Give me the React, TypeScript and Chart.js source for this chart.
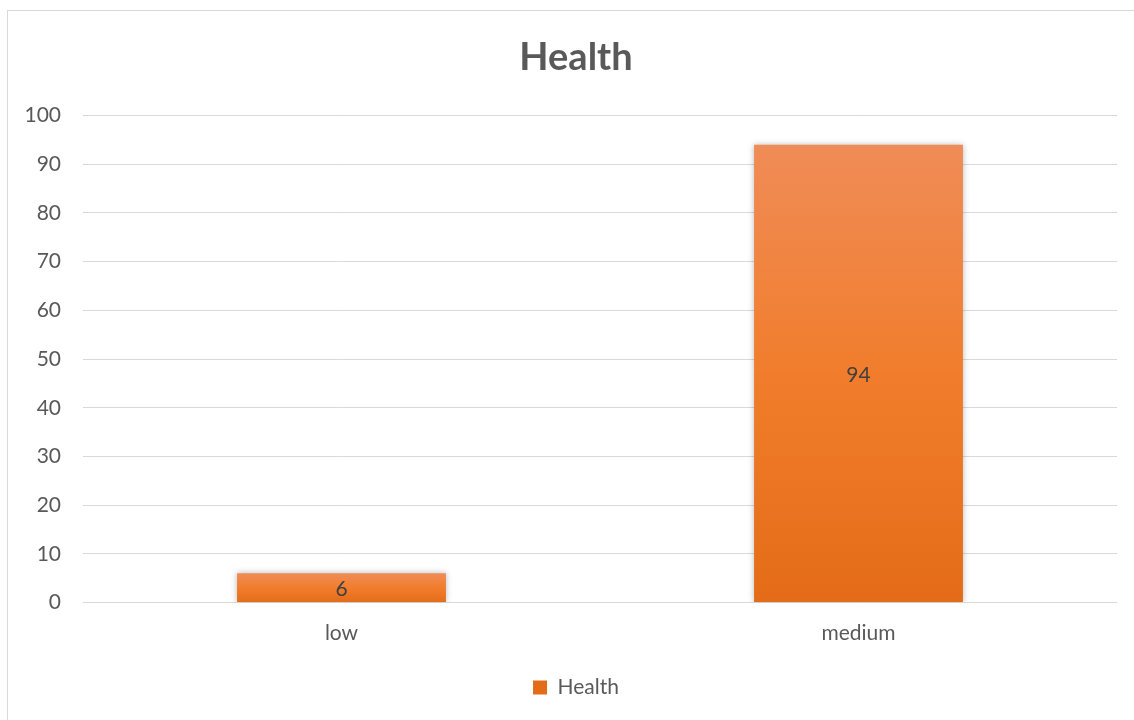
import React, { useEffect, useRef } from "react";
import { Chart, registerables } from "chart.js";

Chart.register(...registerables);

const categories = ["low", "medium"];
const healthValues = [6, 94];
const seriesName = "Health";
const chartTitle = "Health";
const yMin = 0;
const yMax = 100;
const yStep = 10;

const FONT = "Lato, 'Open Sans', 'Liberation Sans', sans-serif";
const TEXT = "#595959";
const GRID = "#d9d9d9";

const shadowAndLabels = {
  id: "shadowAndLabels",
  beforeDatasetsDraw(chart: any) {
    const c = chart.ctx;
    c.save();
    c.shadowColor = "rgba(0,0,0,0.28)";
    c.shadowBlur = 6;
    c.shadowOffsetX = 0;
    c.shadowOffsetY = 0;
  },
  afterDatasetsDraw(chart: any) {
    const c = chart.ctx;
    c.restore();
    const meta = chart.getDatasetMeta(0);
    const data = chart.data.datasets[0].data;
    c.save();
    c.fillStyle = "#404040";
    c.font = `21px ${FONT}`;
    c.textAlign = "center";
    c.textBaseline = "middle";
    meta.data.forEach((el: any, i: number) => {
      const y = (el.y + el.base) / 2 + 1.5;
      c.fillText(String(data[i]), el.x, y);
    });
    c.restore();
  },
};

export default function App() {
  const ref = useRef<HTMLCanvasElement>(null);

  useEffect(() => {
    if (!ref.current) return;
    const chart = new Chart(ref.current, {
      type: "bar",
      data: {
        labels: categories,
        datasets: [
          {
            label: seriesName,
            data: healthValues,
            backgroundColor: (ctx: any) => {
              const ch = ctx.chart;
              if (!ch.chartArea || ctx.type !== "data" || !ch.scales.y) return "#ED7D31";
              const ys = ch.scales.y;
              const top = ys.getPixelForValue(ctx.raw);
              const base = ys.getPixelForValue(0);
              if (!isFinite(top) || !isFinite(base) || top === base) return "#ED7D31";
              const g = ch.ctx.createLinearGradient(0, top, 0, base);
              g.addColorStop(0, "#F08C57");
              g.addColorStop(0.5, "#F17D2C");
              g.addColorStop(1, "#E46C18");
              return g;
            },
            borderWidth: 0,
            barPercentage: 0.404,
            categoryPercentage: 1,
          },
        ],
      },
      options: {
        animation: false,
        responsive: false,
        maintainAspectRatio: false,
        layout: { padding: { top: 0, left: 35, right: 17, bottom: 12 } },
        plugins: {
          title: {
            display: true,
            text: chartTitle,
            color: TEXT,
            font: { family: FONT, size: 38, weight: "bold" },
            padding: { top: 35, bottom: 35 },
          },
          legend: {
            position: "bottom",
            labels: {
              color: TEXT,
              font: { family: FONT, size: 21 },
              boxWidth: 14,
              boxHeight: 14,
              padding: 10,
            },
          },
          tooltip: { enabled: false },
        },
        scales: {
          x: {
            grid: { display: false, drawTicks: false },
            border: { display: false },
            ticks: { color: TEXT, font: { family: FONT, size: 21 }, padding: 18 },
            afterFit: (s: any) => {
              s.height = 64.5;
            },
          },
          y: {
            min: yMin,
            max: yMax,
            ticks: { stepSize: yStep, color: TEXT, font: { family: FONT, size: 21 }, padding: 22 },
            grid: { color: GRID, lineWidth: 1, drawTicks: false },
            border: { display: false },
            afterFit: (s: any) => {
              s.width = 48;
              // let the tick labels extend into the left padding without clipping
              s._computeLabelArea = () => undefined;
            },
          },
        },
      },
      plugins: [shadowAndLabels],
    } as any);
    return () => chart.destroy();
  }, []);

  return (
    <div style={{ position: "fixed", left: 0, top: 0, width: 1134, height: 720, overflow: "hidden", background: "#fff" }}>
      <div
        style={{
          position: "absolute",
          left: 7,
          top: 10,
          width: 1140,
          height: 730,
          border: "1px solid #d9d9d9",
          boxSizing: "border-box",
        }}
      />
      <canvas ref={ref} width={1134} height={720} style={{ position: "absolute", left: 0, top: 0, width: 1134, height: 720 }} />
    </div>
  );
}
